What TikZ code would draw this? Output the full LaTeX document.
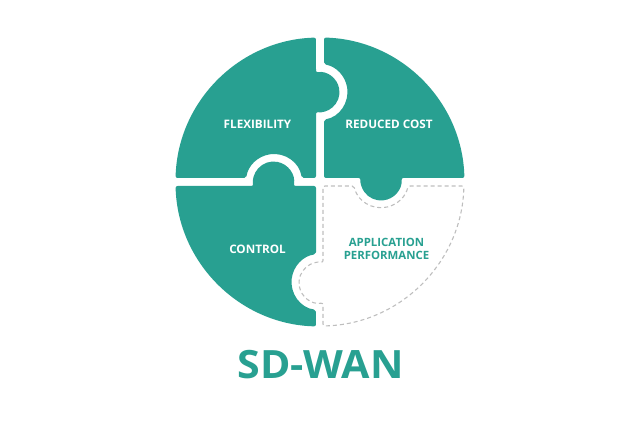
\documentclass[tikz,border=0pt]{standalone}
\usepackage{fontspec}
\setmainfont{Open Sans}
\definecolor{teal1}{RGB}{40,160,145}
\definecolor{dashgray}{RGB}{190,190,190}
\tikzset{
  piece/.style={fill=teal1,draw=none,rounded corners=2pt},
  openpiece/.style={draw=dashgray,line width=1.1pt,dash pattern=on 4pt off 3pt,rounded corners=2pt},
  lightlabel/.style={text=white,font=\bfseries\fontsize{11.7}{13}\selectfont,inner sep=0pt},
  darklabel/.style={text=teal1,font=\bfseries\fontsize{11.4}{13.5}\selectfont,inner sep=0pt,align=center},
  titlelabel/.style={text=teal1,font=\bfseries\fontsize{39}{42}\selectfont,inner sep=0pt}
}
\begin{document}
\begin{tikzpicture}[x=1pt,y=1pt,yscale=-1]
\useasboundingbox (0,0) rectangle (640,427);
% top left
\path[piece] (316,140) -- (316,178) -- (301.7,178) arc (-8.2:-171.8:28) -- (175.56,178)
  arc (181.6:268.4:144.5) -- (316,72.5) arc (-100:100:20) -- cycle;
% top right
\path[piece] (324,140) -- (324,119.6) arc (80.7:-80.7:28) -- (324,37.56)
  arc (271.6:358.4:144.5) -- (401.4,178) arc (-5.6:185.6:20.5) -- (324,178) -- cycle;
% bottom left
\path[piece] (316,230) -- (316,186) -- (293.6,186) arc (11.2:-191.2:20.5) -- (175.56,186)
  arc (178.4:91.6:144.5) -- (316,309.8) arc (97.2:262.8:28) -- cycle;
% bottom right
\draw[openpiece] (323,230) -- (323,186) -- (354,186) arc (167.5:12.5:27.7) -- (463.9,186)
  arc (1.6:88.8:144) -- (323,302.9) arc (80.2:279.8:20.5) -- cycle;
\node[lightlabel] (flex) at (257.5,124.5) {FLEXIBILITY};
\node[lightlabel] (cost) at (389,124.5) {REDUCED COST};
\node[lightlabel] (ctrl) at (257.5,249.5) {CONTROL};
\node[darklabel] (app) at (386.5,249) {APPLICATION\\PERFORMANCE};
\node[titlelabel] (title) at (320.5,364.5) {\scalebox{1.055}[1]{SD-WAN}};
\end{tikzpicture}
\end{document}
